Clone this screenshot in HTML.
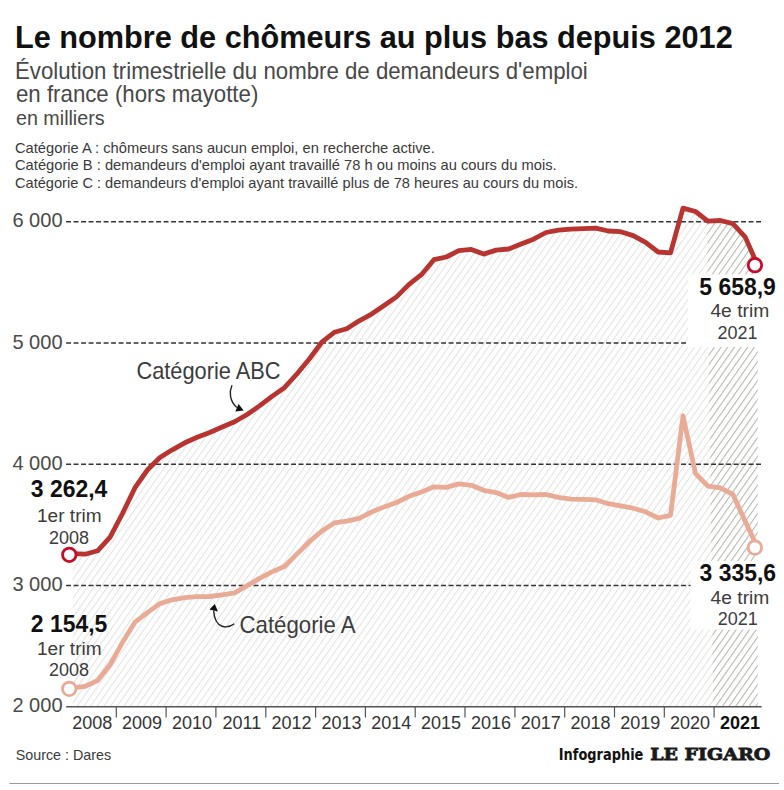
<!DOCTYPE html>
<html lang="fr"><head><meta charset="utf-8"><title>Le nombre de chômeurs au plus bas depuis 2012</title>
<style>
html,body{margin:0;padding:0;background:#fff;}
body{width:784px;height:790px;overflow:hidden;}
svg{display:block;}
text{font-family:"Liberation Sans", Arial, sans-serif;}
.t{font-weight:bold;fill:#111;}
.s{fill:#484848;}
.c{fill:#3a3a3a;}
.y{fill:#4a4a4a;}
.yr{fill:#333;}
.v{font-weight:bold;fill:#111;}
.q{fill:#3c3c3c;}
</style></head><body>
<svg width="784" height="790" viewBox="0 0 784 790">
<defs>
<pattern id="h1" patternUnits="userSpaceOnUse" x="-0.95" width="5.45" height="10" patternTransform="rotate(35)">
<rect x="0" y="0" width="1" height="10" fill="#e2e2df"/>
</pattern>
<pattern id="h2" patternUnits="userSpaceOnUse" x="-0.95" width="5.45" height="10" patternTransform="rotate(35)">
<rect x="0" y="0" width="1" height="10" fill="#bcbcb4"/>
</pattern>
<clipPath id="c2021"><polygon points="706.9,200 713.3,710 790,710 790,200"/></clipPath>
</defs>

<text class="t" x="15" y="47.6" font-size="32" textLength="717.7" lengthAdjust="spacingAndGlyphs">Le nombre de chômeurs au plus bas depuis 2012</text>
<text class="s" x="15" y="78.9" font-size="23.4" textLength="572.8" lengthAdjust="spacingAndGlyphs">Évolution trimestrielle du nombre de demandeurs d'emploi</text>
<text class="s" x="16" y="102.2" font-size="23.4" textLength="242.3" lengthAdjust="spacingAndGlyphs">en france (hors mayotte)</text>
<text class="s" x="16" y="125.2" font-size="19.6" textLength="88.6" lengthAdjust="spacingAndGlyphs">en milliers</text>
<text class="c" x="15" y="152.6" font-size="14.6" textLength="419.8" lengthAdjust="spacingAndGlyphs">Catégorie A : chômeurs sans aucun emploi, en recherche active.</text>
<text class="c" x="15" y="170.3" font-size="14.6" textLength="541.6" lengthAdjust="spacingAndGlyphs">Catégorie B : demandeurs d'emploi ayant travaillé 78 h ou moins au cours du mois.</text>
<text class="c" x="15" y="187.7" font-size="14.6" textLength="563" lengthAdjust="spacingAndGlyphs">Catégorie C : demandeurs d'emploi ayant travaillé plus de 78 heures au cours du mois.</text>
<path d="M72.7,706.7 L72.7,553.6 85.2,554.2 97.6,550.8 110.1,537.1 122.5,513.5 135.0,487.7 147.4,470.0 159.9,457.5 172.3,449.8 184.8,442.8 197.2,437.3 209.7,432.5 222.2,427.0 234.6,421.8 247.1,414.5 259.5,405.9 272.0,396.4 284.4,387.7 296.9,374.0 309.3,359.0 321.8,342.2 334.3,332.3 346.7,328.8 359.2,320.8 371.6,314.1 384.1,305.5 396.5,296.9 409.0,284.4 421.4,274.7 433.9,259.7 446.3,257.0 458.8,250.7 471.3,249.4 483.7,254.1 496.2,250.1 508.6,249.0 521.1,244.0 533.5,239.2 546.0,232.5 558.4,230.1 570.9,229.1 583.4,228.6 595.8,228.2 608.3,231.0 620.7,231.7 633.2,235.6 645.6,242.4 658.1,252.0 670.5,252.9 683.0,208.1 695.5,211.5 707.9,221.1 720.4,220.5 732.8,223.6 745.3,237.1 757.7,265.5 L757.7,706.7 Z" fill="url(#h1)"/>
<path d="M72.7,706.7 L72.7,553.6 85.2,554.2 97.6,550.8 110.1,537.1 122.5,513.5 135.0,487.7 147.4,470.0 159.9,457.5 172.3,449.8 184.8,442.8 197.2,437.3 209.7,432.5 222.2,427.0 234.6,421.8 247.1,414.5 259.5,405.9 272.0,396.4 284.4,387.7 296.9,374.0 309.3,359.0 321.8,342.2 334.3,332.3 346.7,328.8 359.2,320.8 371.6,314.1 384.1,305.5 396.5,296.9 409.0,284.4 421.4,274.7 433.9,259.7 446.3,257.0 458.8,250.7 471.3,249.4 483.7,254.1 496.2,250.1 508.6,249.0 521.1,244.0 533.5,239.2 546.0,232.5 558.4,230.1 570.9,229.1 583.4,228.6 595.8,228.2 608.3,231.0 620.7,231.7 633.2,235.6 645.6,242.4 658.1,252.0 670.5,252.9 683.0,208.1 695.5,211.5 707.9,221.1 720.4,220.5 732.8,223.6 745.3,237.1 757.7,265.5 L757.7,706.7 Z" fill="url(#h2)" clip-path="url(#c2021)"/>
<line x1="66.1" y1="221.8" x2="762.0" y2="221.8" stroke="#333" stroke-width="1.5" stroke-dasharray="4.9 2.6"/>
<line x1="66.1" y1="343.1" x2="762.0" y2="343.1" stroke="#333" stroke-width="1.5" stroke-dasharray="4.9 2.6"/>
<line x1="66.1" y1="464.3" x2="762.0" y2="464.3" stroke="#333" stroke-width="1.5" stroke-dasharray="4.9 2.6"/>
<line x1="66.1" y1="585.5" x2="762.0" y2="585.5" stroke="#333" stroke-width="1.5" stroke-dasharray="4.9 2.6"/>
<text class="y" x="62.6" y="227.4" font-size="20.4" text-anchor="end" textLength="50.2" lengthAdjust="spacingAndGlyphs">6 000</text>
<text class="y" x="62.6" y="348.7" font-size="20.4" text-anchor="end" textLength="50.2" lengthAdjust="spacingAndGlyphs">5 000</text>
<text class="y" x="62.6" y="469.9" font-size="20.4" text-anchor="end" textLength="50.2" lengthAdjust="spacingAndGlyphs">4 000</text>
<text class="y" x="62.6" y="591.1" font-size="20.4" text-anchor="end" textLength="50.2" lengthAdjust="spacingAndGlyphs">3 000</text>
<text class="y" x="62.6" y="712.3" font-size="20.4" text-anchor="end" textLength="50.2" lengthAdjust="spacingAndGlyphs">2 000</text>
<rect x="688" y="274.5" width="76" height="72.5" fill="#fff"/>
<rect x="690.5" y="561" width="74" height="68.5" fill="#fff"/>
<line x1="66.2" y1="706.7" x2="761.6" y2="706.7" stroke="#555" stroke-width="1.5"/>
<line x1="116.3" y1="706.7" x2="116.3" y2="717.4" stroke="#555" stroke-width="1.2"/>
<line x1="166.1" y1="706.7" x2="166.1" y2="717.4" stroke="#555" stroke-width="1.2"/>
<line x1="215.9" y1="706.7" x2="215.9" y2="717.4" stroke="#555" stroke-width="1.2"/>
<line x1="265.8" y1="706.7" x2="265.8" y2="717.4" stroke="#555" stroke-width="1.2"/>
<line x1="315.6" y1="706.7" x2="315.6" y2="717.4" stroke="#555" stroke-width="1.2"/>
<line x1="365.4" y1="706.7" x2="365.4" y2="717.4" stroke="#555" stroke-width="1.2"/>
<line x1="415.2" y1="706.7" x2="415.2" y2="717.4" stroke="#555" stroke-width="1.2"/>
<line x1="465.0" y1="706.7" x2="465.0" y2="717.4" stroke="#555" stroke-width="1.2"/>
<line x1="514.9" y1="706.7" x2="514.9" y2="717.4" stroke="#555" stroke-width="1.2"/>
<line x1="564.7" y1="706.7" x2="564.7" y2="717.4" stroke="#555" stroke-width="1.2"/>
<line x1="614.5" y1="706.7" x2="614.5" y2="717.4" stroke="#555" stroke-width="1.2"/>
<line x1="664.3" y1="706.7" x2="664.3" y2="717.4" stroke="#555" stroke-width="1.2"/>
<line x1="714.1" y1="706.7" x2="714.1" y2="717.4" stroke="#555" stroke-width="1.2"/>
<text class="yr" x="92.3" y="728.6" font-size="18" text-anchor="middle">2008</text>
<text class="yr" x="142.1" y="728.6" font-size="18" text-anchor="middle">2009</text>
<text class="yr" x="191.9" y="728.6" font-size="18" text-anchor="middle">2010</text>
<text class="yr" x="241.8" y="728.6" font-size="18" text-anchor="middle">2011</text>
<text class="yr" x="291.6" y="728.6" font-size="18" text-anchor="middle">2012</text>
<text class="yr" x="341.4" y="728.6" font-size="18" text-anchor="middle">2013</text>
<text class="yr" x="391.2" y="728.6" font-size="18" text-anchor="middle">2014</text>
<text class="yr" x="441.0" y="728.6" font-size="18" text-anchor="middle">2015</text>
<text class="yr" x="490.9" y="728.6" font-size="18" text-anchor="middle">2016</text>
<text class="yr" x="540.7" y="728.6" font-size="18" text-anchor="middle">2017</text>
<text class="yr" x="590.5" y="728.6" font-size="18" text-anchor="middle">2018</text>
<text class="yr" x="640.3" y="728.6" font-size="18" text-anchor="middle">2019</text>
<text class="yr" x="690.1" y="728.6" font-size="18" text-anchor="middle">2020</text>
<text class="v" x="740.0" y="728.6" font-size="18" text-anchor="middle">2021</text>
<polyline points="72.7,687.8 85.2,686.3 97.6,680.5 110.1,664.8 122.5,642.3 135.0,622.2 147.4,612.6 159.9,603.6 172.3,599.8 184.8,597.7 197.2,596.7 209.7,596.5 222.2,594.8 234.6,592.9 247.1,585.7 259.5,578.4 272.0,571.9 284.4,566.5 296.9,554.1 309.3,541.7 321.8,531.1 334.3,522.9 346.7,521.2 359.2,518.4 371.6,512.0 384.1,506.9 396.5,502.5 409.0,496.3 421.4,492.1 433.9,486.8 446.3,487.4 458.8,483.9 471.3,485.3 483.7,490.3 496.2,492.6 508.6,497.4 521.1,494.5 533.5,494.9 546.0,494.5 558.4,497.4 570.9,499.1 583.4,499.3 595.8,499.8 608.3,503.7 620.7,505.8 633.2,508.2 645.6,511.8 658.1,518.0 670.5,515.3 683.0,416.0 695.5,473.5 707.9,486.1 720.4,487.8 732.8,494.3 745.3,521.4 757.7,548.0" fill="none" stroke="#e9ab95" stroke-width="4.8" stroke-linejoin="round" stroke-linecap="round"/>
<polyline points="72.7,553.6 85.2,554.2 97.6,550.8 110.1,537.1 122.5,513.5 135.0,487.7 147.4,470.0 159.9,457.5 172.3,449.8 184.8,442.8 197.2,437.3 209.7,432.5 222.2,427.0 234.6,421.8 247.1,414.5 259.5,405.9 272.0,396.4 284.4,387.7 296.9,374.0 309.3,359.0 321.8,342.2 334.3,332.3 346.7,328.8 359.2,320.8 371.6,314.1 384.1,305.5 396.5,296.9 409.0,284.4 421.4,274.7 433.9,259.7 446.3,257.0 458.8,250.7 471.3,249.4 483.7,254.1 496.2,250.1 508.6,249.0 521.1,244.0 533.5,239.2 546.0,232.5 558.4,230.1 570.9,229.1 583.4,228.6 595.8,228.2 608.3,231.0 620.7,231.7 633.2,235.6 645.6,242.4 658.1,252.0 670.5,252.9 683.0,208.1 695.5,211.5 707.9,221.1 720.4,220.5 732.8,223.6 745.3,237.1 757.7,265.5" fill="none" stroke="#b83430" stroke-width="4.8" stroke-linejoin="round" stroke-linecap="round"/>
<circle cx="69.3" cy="554.8" r="6.75" fill="#fff" stroke="#c80a28" stroke-width="2.8"/>
<circle cx="754.95" cy="265.15" r="6.75" fill="#fff" stroke="#c80a28" stroke-width="2.8"/>
<circle cx="69.25" cy="688.85" r="6.75" fill="#fff" stroke="#e9ab95" stroke-width="2.8"/>
<circle cx="754.9" cy="547.6" r="6.75" fill="#fff" stroke="#e9ab95" stroke-width="2.8"/>
<text class="v" x="69.1" y="497.4" font-size="24" text-anchor="middle" textLength="76.5" lengthAdjust="spacingAndGlyphs">3 262,4</text><text class="q" x="69.3" y="521.7" font-size="18" text-anchor="middle" textLength="64.6" lengthAdjust="spacingAndGlyphs">1er trim</text><text class="q" x="69.1" y="543.7" font-size="18" text-anchor="middle">2008</text>
<text class="v" x="69.1" y="631.8" font-size="24" text-anchor="middle" textLength="76.5" lengthAdjust="spacingAndGlyphs">2 154,5</text><text class="q" x="69.3" y="654.5" font-size="18" text-anchor="middle" textLength="64.6" lengthAdjust="spacingAndGlyphs">1er trim</text><text class="q" x="69.1" y="675.8" font-size="18" text-anchor="middle">2008</text>
<text class="v" x="737.6" y="294.9" font-size="24" text-anchor="middle" textLength="76.5" lengthAdjust="spacingAndGlyphs">5 658,9</text><text class="q" x="739.8" y="316.6" font-size="18" text-anchor="middle" textLength="58.8" lengthAdjust="spacingAndGlyphs">4e trim</text><text class="q" x="737.6" y="338.7" font-size="18" text-anchor="middle">2021</text>
<text class="v" x="737.8" y="580.5" font-size="24" text-anchor="middle" textLength="76.5" lengthAdjust="spacingAndGlyphs">3 335,6</text><text class="q" x="740.0" y="603.8" font-size="18" text-anchor="middle" textLength="58.8" lengthAdjust="spacingAndGlyphs">4e trim</text><text class="q" x="737.8" y="624.6" font-size="18" text-anchor="middle">2021</text>
<text class="q" x="136.4" y="378.7" font-size="23.4" textLength="144.2" lengthAdjust="spacingAndGlyphs">Catégorie ABC</text>
<text class="q" x="239.5" y="632.5" font-size="23.4" textLength="116.2" lengthAdjust="spacingAndGlyphs">Catégorie A</text>
<path d="M232,385.3 C229,392 229.5,401 236.8,407.6" fill="none" stroke="#222" stroke-width="1.4"/>
<polygon points="238.6,404.1 235.3,411.5 243.7,410.6" fill="#111"/>
<path d="M234.3,623.8 C228,628.5 215,630 213.6,610.5" fill="none" stroke="#222" stroke-width="1.4"/>
<polygon points="214.8,603.9 209.4,609.6 217.9,611.4" fill="#111"/>
<text class="c" x="15.8" y="759.7" font-size="14.8" textLength="95.3" lengthAdjust="spacingAndGlyphs">Source : Dares</text>
<text x="558.8" y="759.7" font-size="15" font-weight="bold" fill="#111" style="font-family:'DejaVu Sans', 'Liberation Sans', sans-serif" textLength="84.6" lengthAdjust="spacingAndGlyphs">Infographie</text>
<text x="650.2" y="760.2" font-size="17.2" font-weight="bold" fill="#1a1a1a" stroke="#1a1a1a" stroke-width="0.8" style="font-family:'DejaVu Serif', 'Liberation Serif', serif" textLength="120" lengthAdjust="spacingAndGlyphs">LE FIGARO</text>
<line x1="9.4" y1="783.5" x2="779" y2="783.5" stroke="#999" stroke-width="1"/>
</svg>
</body></html>
